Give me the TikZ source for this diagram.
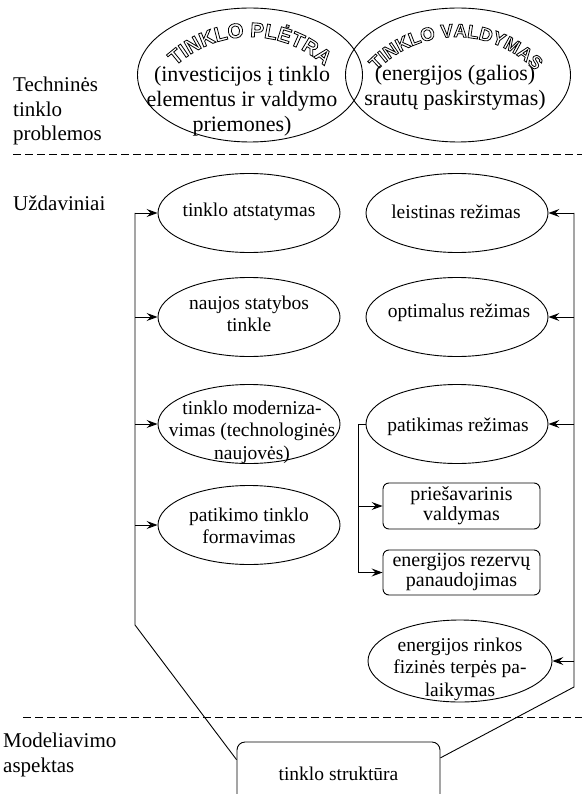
\documentclass[tikz,border=0pt]{standalone}
\usepackage{fontspec}
\setmainfont{Liberation Serif}
\newfontfamily\artfont{Liberation Sans}
\usetikzlibrary{arrows.meta, shapes.geometric, calc}
\newcommand{\fsz}[2]{\fontsize{#1}{#2}\selectfont}
\newcommand{\outl}{\special{pdf:literal direct 1 Tr 0.8 w}}
\tikzset{
    oval/.style={draw, ellipse, line width=0.9pt, inner sep=0pt, minimum width=182pt, minimum height=79pt},
    bigoval/.style={oval, minimum width=225pt, minimum height=134pt},
    roundbox/.style={draw, rounded corners=6pt, line width=0.9pt, inner sep=0pt, minimum width=157pt, minimum height=46pt, align=center, font=\fsz{20}{20}},
    tasktext/.style={inner sep=0pt, align=center, font=\fsz{19.5}{22.5}},
    toptext/.style={inner sep=0pt, align=center, font=\fsz{22}{25}},
    sidetext/.style={inner sep=0pt, anchor=west, align=left, font=\fsz{21}{24.5}},
    link/.style={line width=0.9pt},
    feed/.style={link, -{Stealth[length=11pt, width=8pt, inset=4pt]}},
    divider/.style={line width=0.8pt, dash pattern=on 8pt off 4pt},
    artletter/.style={anchor=base, inner sep=0pt, font=\artfont\bfseries\fsz{#1}{#1}\outl}
}
\begin{document}
\begin{tikzpicture}[x=1pt, y=1pt]
    \useasboundingbox (0,0) rectangle (582,-794);
    % levels
    \node[sidetext] (lev1) at (13,-111) {Techninės\\tinklo\\problemos};
    \node[sidetext] (lev2) at (13,-203) {Uždaviniai};
    \node[sidetext] (lev3) at (3,-755) {Modeliavimo\\aspektas};
    \draw[divider] (13,-154) -- (582,-154);
    \draw[divider] (23,-717) -- (582,-717);
    % network problems
    \node[bigoval] (pletra) at (250,-75) {};
    \node[bigoval] (valdymas) at (458,-75) {};
    \node[toptext] (pletraT) at (242,-101) {(investicijos į tinklo\\elementus ir valdymo\\priemones)};
    \node[toptext] (valdymasT) at (455,-88) {(energijos (galios)\\srautų paskirstymas)};
    % tasks
    \foreach \n/\y in {1/-213, 2/-317, 3/-424, 4/-525}
        \node[oval] (l\n) at (249,\y) {};
    \foreach \n/\y in {1/-213, 2/-317, 3/-424}
        \node[oval] (r\n) at (457,\y) {};
    \node[oval, minimum width=184pt, minimum height=82pt] (r4) at (460,-661) {};
    \node[tasktext] (l1t) at (249,-212) {tinklo atstatymas};
    \node[tasktext] (l2t) at (249,-314) {naujos statybos\\tinkle};
    \node[tasktext] (l3t) at (252,-432) {tinklo moderniza-\\vimas (technologinės\\naujovės)};
    \node[tasktext] (l4t) at (249,-526) {patikimo tinklo\\formavimas};
    \node[tasktext] (r1t) at (456,-212) {leistinas režimas};
    \node[tasktext] (r2t) at (459,-313) {optimalus režimas};
    \node[tasktext] (r3t) at (458,-427) {patikimas režimas};
    \node[tasktext] (r4t) at (460,-669) {energijos rinkos\\fizinės terpės pa-\\laikymas};
    \node[roundbox] (b1) at (461.5,-506) {priešavarinis\\valdymas};
    \node[roundbox, minimum height=45pt] (b2) at (461.5,-572.5) {energijos rezervų\\panaudojimas};
    % model
    \node[roundbox, rounded corners=8pt, minimum width=203pt, minimum height=64pt, font=\fsz{19.5}{22.5}] (sBox) at (338.5,-774) {tinklo struktūra};
    % connectors
    \coordinate (lTop) at (135,-213);
    \coordinate (lBend) at (135,-625);
    \coordinate (rTop) at (574,-213);
    \coordinate (rBend) at (574,-687);
    \draw[link] (lTop) -- (lBend) -- (sBox.172);
    \draw[link] (rTop) -- (rBend) -- (sBox.9.5);
    \foreach \n in {1,...,4}{
        \draw[feed] (lTop |- l\n.west) -- (l\n.west);
        \draw[feed] (rTop |- r\n.east) -- (r\n.east);
    }
    \coordinate (sj) at (358,-424);
    \draw[link] (r3.west) -- (sj);
    \draw[feed] (sj) |- (b2.west);
    \draw[feed] (sj |- b1.west) -- (b1.west);
    % curved titles, letter by letter (offsets in em from the middle)
    \coordinate (arcA) at (250,-147);
    \coordinate (arcB) at (456,-147);
    \foreach \l/\o [count=\i] in {T/-3.694, I/-3.25, N/-2.75, K/-2.028, L/-1.3615, O/-0.667,
        P/0.3335, L/0.9725, Ė/1.6115, T/2.2505, R/2.917, A/3.639}
        \node[artletter=20.5, rotate={0-(\o)*10.678}] (pl\i) at ($(arcA)+({90-(\o)*10.678}:110)$) {\l};
    \foreach \l/\o [count=\i] in {T/-4.5, I/-4.0555, N/-3.5555, K/-2.8335, L/-2.167, O/-1.4725,
        V/-0.472, A/0.2225, L/0.889, D/1.5555, Y/2.25, M/3.0, A/3.7775, S/4.472}
        \node[artletter=18.5, rotate={0-(\o)*9.636}] (va\i) at ($(arcB)+({90-(\o)*9.636}:110)$) {\l};
\end{tikzpicture}
\end{document}
